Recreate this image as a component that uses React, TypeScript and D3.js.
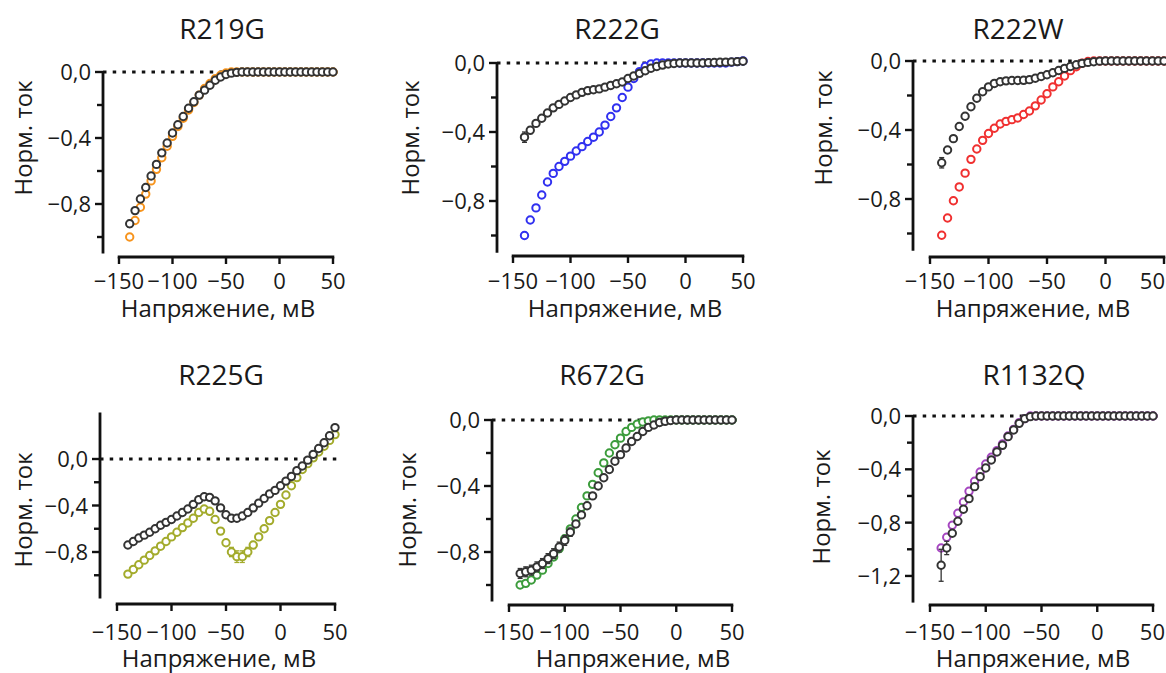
import React from "react";
import * as d3 from "d3";

// ---------- data ----------
const voltages = [
  -140, -135, -130, -125, -120, -115, -110, -105, -100, -95, -90, -85, -80, -75, -70, -65, -60, -55, -50, -45,
  -40, -35, -30, -25, -20, -15, -10, -5, 0, 5, 10, 15, 20, 25, 30, 35, 40, 45, 50,
];

const titles = ["R219G", "R222G", "R222W", "R225G", "R672G", "R1132Q"];
const mutantColors = ["#f7941d", "#3030f0", "#f03030", "#a3ab2c", "#3c9c3c", "#a545c0"];

const r219gWt = [-0.92, -0.84, -0.77, -0.7, -0.63, -0.56, -0.49, -0.43, -0.37, -0.32, -0.27, -0.22, -0.18, -0.14, -0.11, -0.08, -0.05, -0.03, -0.015, -0.007,
  -0.002, 0, 0, 0, 0, 0, 0, 0, 0, 0, 0, 0, 0, 0, 0, 0, 0, 0, 0];
const r219gMut = [-1.0, -0.9, -0.82, -0.74, -0.66, -0.59, -0.52, -0.45, -0.39, -0.33, -0.28, -0.23, -0.185, -0.14, -0.1, -0.07, -0.04, -0.02, -0.006, 0,
  0, 0, 0, 0, 0, 0, 0, 0, 0, 0, 0, 0, 0, 0, 0, 0, 0, 0, 0];

const r222gWt = [-0.43, -0.39, -0.35, -0.32, -0.29, -0.26, -0.24, -0.22, -0.2, -0.185, -0.17, -0.16, -0.155, -0.15, -0.14, -0.13, -0.12, -0.11, -0.09, -0.075,
  -0.06, -0.045, -0.03, -0.02, -0.012, -0.006, -0.003, 0, 0, 0, 0, 0, 0.002, 0.003, 0.004, 0.005, 0.006, 0.008, 0.01];
const r222gMut = [-1.0, -0.91, -0.84, -0.765, -0.69, -0.64, -0.6, -0.57, -0.54, -0.51, -0.485, -0.455, -0.43, -0.4, -0.36, -0.31, -0.26, -0.2, -0.14, -0.09,
  -0.05, -0.02, -0.005, 0, 0, 0, 0, 0, 0, 0, 0, 0, 0, 0, 0, 0, 0.005, 0.008, 0.012];

const r222wWt = [-0.59, -0.516, -0.45, -0.38, -0.32, -0.265, -0.216, -0.178, -0.15, -0.13, -0.12, -0.115, -0.113, -0.113, -0.112, -0.108, -0.1, -0.09, -0.08, -0.068,
  -0.055, -0.043, -0.032, -0.022, -0.014, -0.008, -0.004, -0.001, 0, 0, 0, 0, 0, 0, 0, 0, 0, 0, 0];
const r222wMut = [-1.01, -0.91, -0.81, -0.73, -0.65, -0.57, -0.51, -0.46, -0.42, -0.39, -0.365, -0.35, -0.34, -0.33, -0.31, -0.29, -0.26, -0.226, -0.19, -0.15,
  -0.12, -0.087, -0.056, -0.033, -0.013, -0.003, 0, 0, 0, 0, 0, 0, 0, 0, 0, 0, 0, 0, 0];

const r225gWt = [-0.74, -0.71, -0.68, -0.655, -0.63, -0.6, -0.57, -0.545, -0.52, -0.49, -0.46, -0.43, -0.39, -0.35, -0.325, -0.33, -0.36, -0.42, -0.48, -0.51,
  -0.51, -0.49, -0.46, -0.42, -0.38, -0.34, -0.3, -0.27, -0.23, -0.19, -0.15, -0.1, -0.06, -0.01, 0.04, 0.09, 0.14, 0.2, 0.27];
const r225gMut = [-0.99, -0.95, -0.91, -0.87, -0.83, -0.79, -0.75, -0.71, -0.67, -0.63, -0.59, -0.55, -0.51, -0.46, -0.43, -0.45, -0.52, -0.62, -0.72, -0.8,
  -0.84, -0.84, -0.8, -0.74, -0.67, -0.6, -0.53, -0.46, -0.39, -0.31, -0.23, -0.16, -0.09, -0.04, 0.01, 0.06, 0.11, 0.16, 0.21];

const r672gWt = [-0.93, -0.92, -0.91, -0.89, -0.87, -0.84, -0.81, -0.77, -0.73, -0.68, -0.63, -0.575, -0.52, -0.46, -0.4, -0.35, -0.3, -0.25, -0.21, -0.17,
  -0.13, -0.1, -0.07, -0.045, -0.03, -0.015, -0.008, -0.003, 0, 0, 0, 0, 0, 0, 0, 0, 0, 0, 0];
const r672gMut = [-1.0, -0.99, -0.97, -0.94, -0.91, -0.87, -0.83, -0.78, -0.72, -0.66, -0.6, -0.53, -0.46, -0.39, -0.32, -0.26, -0.2, -0.15, -0.11, -0.07,
  -0.045, -0.025, -0.012, -0.005, 0, 0, 0, 0, 0, 0, 0, 0, 0, 0, 0, 0, 0, 0, 0];

const r1132qWt = [-1.12, -0.99, -0.88, -0.79, -0.7, -0.62, -0.53, -0.455, -0.39, -0.33, -0.27, -0.22, -0.155, -0.105, -0.055, -0.02, -0.005, 0, 0, 0,
  0, 0, 0, 0, 0, 0, 0, 0, 0, 0, 0, 0, 0, 0, 0, 0, 0, 0, 0];
const r1132qMut = [-0.99, -0.91, -0.82, -0.73, -0.645, -0.565, -0.49, -0.42, -0.36, -0.31, -0.26, -0.21, -0.15, -0.1, -0.05, -0.02, 0, 0, 0, 0,
  0, 0, 0, 0, 0, 0, 0, 0, 0, 0, 0, 0, 0, 0, 0, 0, 0, 0, 0];

const wtSeries = [r219gWt, r222gWt, r222wWt, r225gWt, r672gWt, r1132qWt];
const mutSeries = [r219gMut, r222gMut, r222wMut, r225gMut, r672gMut, r1132qMut];

// error bars (voltage, sem) per panel
const wtErrV = [[-140], [-140, -135], [-140], [-140], [-140, -135, -130, -125, -120, -115, -110, -105, -100, -95, -90], [-140, -135]];
const wtErr = [[0.02], [0.03, 0.02], [0.03], [0.02], [0.03, 0.03, 0.03, 0.03, 0.03, 0.03, 0.03, 0.03, 0.03, 0.025, 0.02], [0.12, 0.05]];
const mutErrV = [[], [], [], [-45, -40, -35, -30, -25], [], []];
const mutErr = [[], [], [], [0.04, 0.05, 0.05, 0.04, 0.03], [], []];

const xTicks = [-150, -100, -50, 0, 50];
const yMajorTicks = [
  [0, -0.4, -0.8], [0, -0.4, -0.8], [0, -0.4, -0.8], [0, -0.4, -0.8], [0, -0.4, -0.8], [0, -0.4, -0.8, -1.2],
];
const yMinorTicks = [
  [-0.2, -0.6, -1.0], [-0.2, -0.6, -1.0], [-0.2, -0.6, -1.0], [-0.2, -0.6, -1.0], [-0.2, -0.6, -1.0], [-0.2, -0.6, -1.0],
];
const yDomains = [[-1.1, 0], [-1.1, 0], [-1.1, 0], [-1.2, 0.4], [-1.1, 0], [-1.4, 0]];

const xLabel = "Напряжение, мВ";
const yLabel = "Норм. ток";

// ---------- layout ----------
const layout = [
  { xL: 119, xR: 333, yAxisX: 103, yBot: 253.5, yTop: 72, xAxisY: 257, titleX: 222, titleY: 39, ylabX: 32, ylabY: 138, tickY: 289, xlabX: 218, xlabY: 317 },
  { xL: 513, xR: 743, yAxisX: 497, yBot: 252.75, yTop: 63, xAxisY: 256, titleX: 617, titleY: 39, ylabX: 419, ylabY: 138, tickY: 289, xlabX: 625, xlabY: 317 },
  { xL: 930, xR: 1164, yAxisX: 913, yBot: 250.75, yTop: 61, xAxisY: 257, titleX: 1018, titleY: 39, ylabX: 832, ylabY: 128, tickY: 289, xlabX: 1033, xlabY: 317 },
  { xL: 117, xR: 335, yAxisX: 100, yBot: 598.5, yTop: 412.5, xAxisY: 604, titleX: 221, titleY: 385, ylabX: 32, ylabY: 510, tickY: 640, xlabX: 219, xlabY: 667 },
  { xL: 509, xR: 732, yAxisX: 492, yBot: 601.5, yTop: 420, xAxisY: 605, titleX: 602, titleY: 385, ylabX: 416, ylabY: 510, tickY: 640, xlabX: 633, xlabY: 667 },
  { xL: 930, xR: 1153, yAxisX: 913, yBot: 602.6, yTop: 416, xAxisY: 605, titleX: 1034, titleY: 385, ylabX: 830, ylabY: 507, tickY: 640, xlabX: 1033, xlabY: 667 },
];

const FONT = "'Open Sans', 'Noto Sans', sans-serif";
const W = 1166;
const fmtY = (v: number) => (v === 0 ? "0,0" : "\u2212" + Math.abs(v).toFixed(1).replace(".", ","));
const fmtX = (v: number) => (v < 0 ? "\u2212" + Math.abs(v) : String(v));

function Panel({ i }: { i: number }) {
  const L = layout[i];
  const x = d3.scaleLinear().domain([-150, 50]).range([L.xL, L.xR]);
  const y = d3.scaleLinear().domain(yDomains[i]).range([L.yBot, L.yTop]);
  const wt = wtSeries[i];
  const mut = mutSeries[i];
  const col = mutantColors[i];
  const r = 3.7;
  const errBars = (vs: number[], es: number[], vals: number[], color: string, key: string) =>
    vs.map((v, k) => {
      const idx = voltages.indexOf(v);
      const cx = x(v);
      const y1 = y(vals[idx] + es[k]);
      const y2 = y(vals[idx] - es[k]);
      return (
        <g key={key + k} stroke={color} strokeWidth={1.3}>
          <line x1={cx} x2={cx} y1={y1} y2={y2} />
          <line x1={cx - 2.5} x2={cx + 2.5} y1={y1} y2={y1} />
          <line x1={cx - 2.5} x2={cx + 2.5} y1={y2} y2={y2} />
        </g>
      );
    });
  return (
    <g>
      <text x={L.titleX} y={L.titleY} textAnchor="middle" fontSize={28} fill="#1a1a1a">
        {titles[i]}
      </text>
      {/* zero line */}
      <line x1={L.yAxisX} x2={x(54)} y1={y(0)} y2={y(0)} stroke="#111" strokeWidth={2.8} strokeDasharray="3.5,6.2" />
      {/* y axis */}
      <line x1={L.yAxisX} x2={L.yAxisX} y1={y(yDomains[i][1])} y2={L.yBot} stroke="#111" strokeWidth={2.8} />
      {yMajorTicks[i].map((t) => (
        <g key={"ym" + t}>
          <line x1={L.yAxisX - 8} x2={L.yAxisX} y1={y(t)} y2={y(t)} stroke="#111" strokeWidth={2.4} />
          <text x={L.yAxisX - 12} y={y(t) + 8} textAnchor="end" fontSize={22} fill="#1a1a1a">
            {fmtY(t)}
          </text>
        </g>
      ))}
      {yMinorTicks[i].map((t) => (
        <line key={"yn" + t} x1={L.yAxisX - 6} x2={L.yAxisX} y1={y(t)} y2={y(t)} stroke="#111" strokeWidth={2.4} />
      ))}
      <text
        transform={`translate(${L.ylabX},${L.ylabY}) rotate(-90)`}
        textAnchor="middle"
        fontSize={24}
        fill="#1a1a1a"
      >
        {yLabel}
      </text>
      {/* x axis */}
      <line x1={L.xL - 1.3} x2={L.xR + 1.3} y1={L.xAxisY} y2={L.xAxisY} stroke="#111" strokeWidth={2.8} />
      {xTicks.map((t) => {
        const tx = x(t);
        const nearEdge = tx + 14 > W;
        return (
          <g key={"xt" + t}>
            <line x1={tx} x2={tx} y1={L.xAxisY} y2={L.xAxisY + 7} stroke="#111" strokeWidth={2.4} />
            <text
              x={nearEdge ? W - 1 : tx}
              y={L.tickY}
              textAnchor={nearEdge ? "end" : "middle"}
              fontSize={22}
              fill="#1a1a1a"
            >
              {fmtX(t)}
            </text>
          </g>
        );
      })}
      <text x={L.xlabX} y={L.xlabY} textAnchor="middle" fontSize={24} fill="#1a1a1a">
        {xLabel}
      </text>
      {/* mutant */}
      {errBars(mutErrV[i], mutErr[i], mut, col, "me")}
      {voltages.map((v, k) => (
        <circle key={"m" + k} cx={x(v)} cy={y(mut[k])} r={r} fill="#fff" stroke={col} strokeWidth={2} />
      ))}
      {/* wild type */}
      {errBars(wtErrV[i], wtErr[i], wt, "#333", "we")}
      {voltages.map((v, k) => (
        <circle key={"w" + k} cx={x(v)} cy={y(wt[k])} r={r} fill="#fff" stroke="#333" strokeWidth={2} />
      ))}
    </g>
  );
}

export default function App() {
  return (
    <svg
      width={W}
      height={673}
      style={{ position: "absolute", left: 0, top: 0, background: "#fff" }}
      fontFamily={FONT}
    >
      <rect width={W} height={673} fill="#fff" />
      {titles.map((_, i) => (
        <Panel key={i} i={i} />
      ))}
    </svg>
  );
}
